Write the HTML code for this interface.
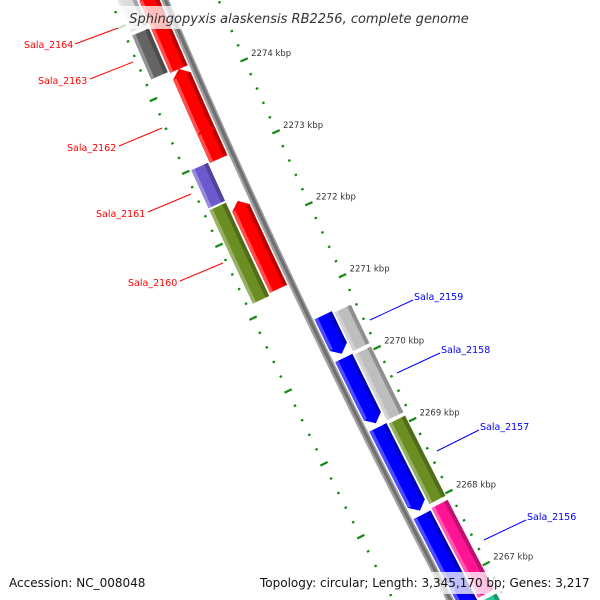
<!DOCTYPE html>
<html><head><meta charset="utf-8"><style>
html,body{margin:0;padding:0;background:#fff;width:600px;height:600px;overflow:hidden;}
svg{display:block;font-family:"Liberation Sans","DejaVu Sans",sans-serif;overflow:hidden;}
.dv{font-family:"DejaVu Sans","Liberation Sans",sans-serif;}
</style></head><body>
<svg id="map" width="600" height="600" viewBox="0 0 600 600" xmlns="http://www.w3.org/2000/svg">
<g id="ticks"></g>
<g id="backbone"></g>
<g id="genes"></g>
<g id="labels" class="dv">
  <line x1="75" y1="44" x2="118" y2="28" stroke="#ff0000" stroke-width="1"/>
  <text x="24" y="48" font-size="9.5" fill="#ff0000">Sala_2164</text>
  <line x1="90" y1="79" x2="133" y2="62" stroke="#ff0000" stroke-width="1"/>
  <text x="38" y="84" font-size="9.5" fill="#ff0000">Sala_2163</text>
  <line x1="119" y1="146" x2="162" y2="128" stroke="#ff0000" stroke-width="1"/>
  <text x="67" y="151" font-size="9.5" fill="#ff0000">Sala_2162</text>
  <line x1="148" y1="212" x2="191" y2="194" stroke="#ff0000" stroke-width="1"/>
  <text x="96" y="217" font-size="9.5" fill="#ff0000">Sala_2161</text>
  <line x1="180" y1="281" x2="223" y2="263" stroke="#ff0000" stroke-width="1"/>
  <text x="128" y="286" font-size="9.5" fill="#ff0000">Sala_2160</text>
  <line x1="370" y1="320" x2="413" y2="300" stroke="#0000ff" stroke-width="1"/>
  <text x="414" y="300" font-size="9.5" fill="#0000ff">Sala_2159</text>
  <line x1="397" y1="373" x2="440" y2="353" stroke="#0000ff" stroke-width="1"/>
  <text x="441" y="353" font-size="9.5" fill="#0000ff">Sala_2158</text>
  <line x1="437" y1="451" x2="479" y2="430" stroke="#0000ff" stroke-width="1"/>
  <text x="480" y="430" font-size="9.5" fill="#0000ff">Sala_2157</text>
  <line x1="484" y1="540" x2="526" y2="520" stroke="#0000ff" stroke-width="1"/>
  <text x="527" y="520" font-size="9.5" fill="#0000ff">Sala_2156</text>
</g>
<g class="dv">
  <rect x="118" y="6" width="362" height="23" fill="#fff" fill-opacity="0.75"/>
  <text x="299" y="23" font-size="13" font-style="italic" text-anchor="middle" fill="#333">Sphingopyxis alaskensis RB2256, complete genome</text>
</g>
<g class="dv">
  <rect x="5" y="572" width="146" height="22" fill="#fff" fill-opacity="0.75"/>
  <text x="9" y="587" font-size="12" fill="#111">Accession: NC_008048</text>
  <rect x="257" y="572" width="337" height="22" fill="#fff" fill-opacity="0.75"/>
  <text x="260" y="587" font-size="12" fill="#111">Topology: circular; Length: 3,345,170 bp; Genes: 3,217</text>
</g>
</svg>
<script>
// Data: kbp positions
const geneStart = [2274.21, 2273.00, 2272.97, 2271.18, 2274.88, 2274.23, 2272.46, 2271.15, 2270.11, 2269.15, 2267.94, 2266.45, 2270.08, 2269.12, 2267.96, 2266.66, 2266.10];
const geneEnd   = [2275.32, 2274.24, 2273.47, 2272.42, 2275.43, 2274.86, 2273.01, 2272.46, 2270.67, 2270.08, 2269.12, 2267.91, 2270.64, 2270.06, 2269.10, 2267.93, 2266.63];
const geneLane  = [-1, -1, -1, -1, -2, -2, -2, -2, 1, 1, 1, 1, 2, 2, 2, 2, 2];
const geneStrand= [1, 1, 1, 1, 0, 0, 0, 0, -1, -1, -1, -1, 0, 0, 0, 0, 0];
const geneColor = ["#ff0000","#ff0000","#ff0000","#ff0000","#dcdcdc","#646464","#6a5acd","#6b8e23","#0000ff","#0000ff","#0000ff","#0000ff","#bebebe","#bebebe","#6b8e23","#ff1493","#20c997"];
const tickMin = 2266.0, tickMax = 2275.6, tickStep = 0.2;
const majorTickLabels = ["2267 kbp","2268 kbp","2269 kbp","2270 kbp","2271 kbp","2272 kbp","2273 kbp","2274 kbp"];
const majorTickValues = [2267,2268,2269,2270,2271,2272,2273,2274];

const NS = "http://www.w3.org/2000/svg";
function sOf(k){ return 79.5 + (2274 - k) * 72.4; }
function bx(s){ return 165 + 0.424*s + 8.5e-5*s*s; }
function pt(s,d){
  const dx = 0.424 + 2*8.5e-5*s, n = Math.sqrt(1+dx*dx);
  return [bx(s) + d*(1/n), s + d*(-dx/n)];
}
function poly(pts, fill, parent, name){
  const p = document.createElementNS(NS,"polygon");
  p.setAttribute("points", pts.map(q=>q[0].toFixed(2)+","+q[1].toFixed(2)).join(" "));
  p.setAttribute("fill", fill);
  
  
  parent.appendChild(p);
}
function band(s1,s2,d1,d2){
  const a=[],b=[]; const N=12;
  for(let i=0;i<=N;i++){ const s=s1+(s2-s1)*i/N; a.push(pt(s,d1)); b.push(pt(s,d2)); }
  return a.concat(b.reverse());
}
function shade(hex,f){
  let r=parseInt(hex.substr(1,2),16),g=parseInt(hex.substr(3,2),16),b=parseInt(hex.substr(5,2),16);
  if(f>0){ r+= (255-r)*f; g+=(255-g)*f; b+=(255-b)*f; } else { r*=1+f; g*=1+f; b*=1+f; }
  return "rgb("+Math.round(r)+","+Math.round(g)+","+Math.round(b)+")";
}
const bb = document.getElementById("backbone");
function bbLine(d1,d2,col){ poly(band(-20,620,d1,d2), col, bb, 'backbone-line'); }
bbLine(-3.5,3.5,"#a0a0a0");
bbLine(-1.2,2,"#707070");
const gg = document.getElementById("genes");
for(let i=0;i<geneStart.length;i++){
  let s1 = sOf(geneEnd[i]) + 1, s2 = sOf(geneStart[i]) - 1;
  const L = geneLane[i], sg = L<0?-1:1, al = Math.abs(L);
  const din = al===1?5:26, dout = al===1?24:44;
  const d1 = sg*din, d2 = sg*dout;
  const dl = Math.min(d1,d2), dr = Math.max(d1,d2), dm=(dl+dr)/2;
  const col = geneColor[i];
  const g = document.createElementNS(NS,"g");
  
  
  gg.appendChild(g);
  const AL = 7;
  let b1=s1, b2=s2;
  if(geneStrand[i]===1) b1 = s1+AL;
  if(geneStrand[i]===-1) b2 = s2-AL;
  let shape = band(b1,b2,dl,dr);
  if(geneStrand[i]===1){
    const a=[],b=[];for(let k=0;k<=12;k++){const s=b1+(b2-b1)*k/12;a.push(pt(s,dl));b.push(pt(s,dr));}
    shape=[pt(s1,dm)].concat(b).concat(a.reverse());
  }
  if(geneStrand[i]===-1){
    const a=[],b=[];for(let k=0;k<=12;k++){const s=b1+(b2-b1)*k/12;a.push(pt(s,dl));b.push(pt(s,dr));}
    shape=a.concat([pt(s2,dm)]).concat(b.reverse());
  }
  poly(shape, col, g, 'gene-body');
  poly(band(b1,b2,dl,dl+3.5), shade(col,0.3), g, 'gene-highlight');
  poly(band(b1,b2,dr-4,dr), shade(col,-0.25), g, 'gene-shadow');
}
const tg = document.getElementById("ticks");
function tickLine(s,da,db,w){
  const a=pt(s,da), b=pt(s,db);
  const l=document.createElementNS(NS,"line");
  l.setAttribute("x1",a[0]);l.setAttribute("y1",a[1]);l.setAttribute("x2",b[0]);l.setAttribute("y2",b[1]);
  l.setAttribute("stroke","#118811");l.setAttribute("stroke-width",w);
  
  
  tg.appendChild(l);
}
const nT = Math.round((tickMax-tickMin)/tickStep);
for(let i=0;i<=nT;i++){
  const k = tickMin + i*tickStep;
  const major = Math.abs(k-Math.round(k))<1e-6;
  const s = sOf(k);
  if(major){ tickLine(s,45,53,2.2); tickLine(s,-46,-54,2.2); }
  else { tickLine(s,48,50.5,2.2); tickLine(s,-49,-51.5,2.2); }
}
for(let i=0;i<majorTickValues.length;i++){
  const p = pt(sOf(majorTickValues[i]),49);
  const t=document.createElementNS(NS,"text");
  t.setAttribute("x",p[0]+7);t.setAttribute("y",p[1]-4);
  t.setAttribute("font-size","8.5");t.setAttribute("fill","#333");
  t.setAttribute("font-family","DejaVu Sans, Liberation Sans, sans-serif");
  
  
  t.textContent = majorTickLabels[i];
  tg.appendChild(t);
}
</script>
</body></html>
